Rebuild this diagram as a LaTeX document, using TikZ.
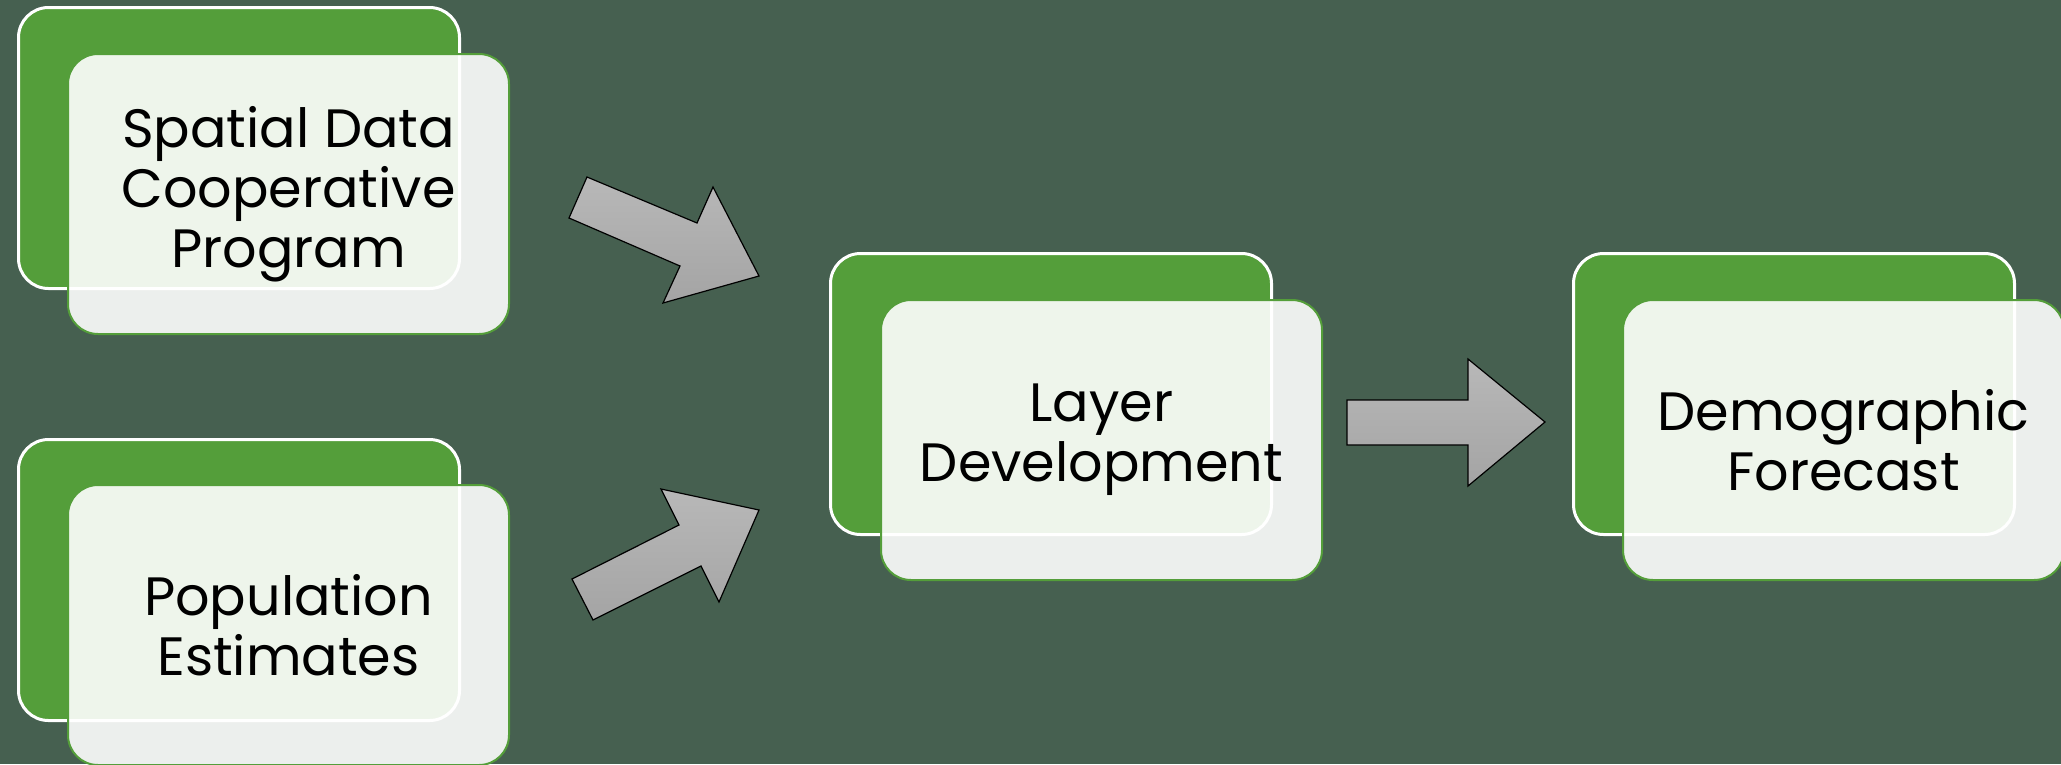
\documentclass[tikz,border=0pt]{standalone}
\usepackage{fontspec}
\setmainfont{Poppins}
\definecolor{bgc}{RGB}{70,96,80}
\definecolor{grn}{RGB}{84,158,58}
\definecolor{artop}{RGB}{184,184,184}
\definecolor{arbot}{RGB}{164,164,164}
\tikzset{
  backbox/.style={draw=white, line width=3pt, fill=grn, rounded corners=30pt,
    minimum width=441pt, minimum height=281pt, inner sep=0pt, anchor=north west},
  frontbox/.style={draw=grn, line width=2pt, fill=white, fill opacity=0.9, text opacity=1,
    rounded corners=30pt, minimum width=441pt, minimum height=280pt, inner sep=0pt,
    anchor=north west, align=center, font=\fontsize{54}{60}\selectfont},
  blockarrow/.style={draw=black, line width=1.2pt, line join=miter,
    top color=artop, bottom color=arbot}
}
\begin{document}
\begin{tikzpicture}[x=1pt,y=-1pt]
\fill[bgc] (0,0) rectangle (2061,764);
\useasboundingbox (0,0) rectangle (2061,764);

% back boxes
\node[backbox] (b1) at (17,6) {};
\node[backbox] (b2) at (17,438) {};
\node[backbox] (b3) at (829,252) {};
\node[backbox] (b4) at (1572,252) {};

% front boxes with text
\node[frontbox] (f1) at (67,53) {Spatial Data\\Cooperative\\Program};
\node[frontbox] (f2) at (67,484) {Population\\Estimates};
\node[frontbox] (f3) at (880,299) {Layer\\Development};
\node[frontbox] (f4) at (1622,299) {Demographic\\Forecast};

% block arrows
\draw[blockarrow] (587,177) -- (697,223) -- (713,187) -- (759,276) -- (663,303) -- (680,266) -- (569,218) -- cycle;
\draw[blockarrow] (572,579) -- (679,525) -- (661,489) -- (759,510) -- (719,602) -- (701,566) -- (593,620) -- cycle;
\draw[blockarrow] (1347,400) -- (1468,400) -- (1468,359) -- (1545,422) -- (1468,486) -- (1468,445) -- (1347,445) -- cycle;
\end{tikzpicture}
\end{document}
